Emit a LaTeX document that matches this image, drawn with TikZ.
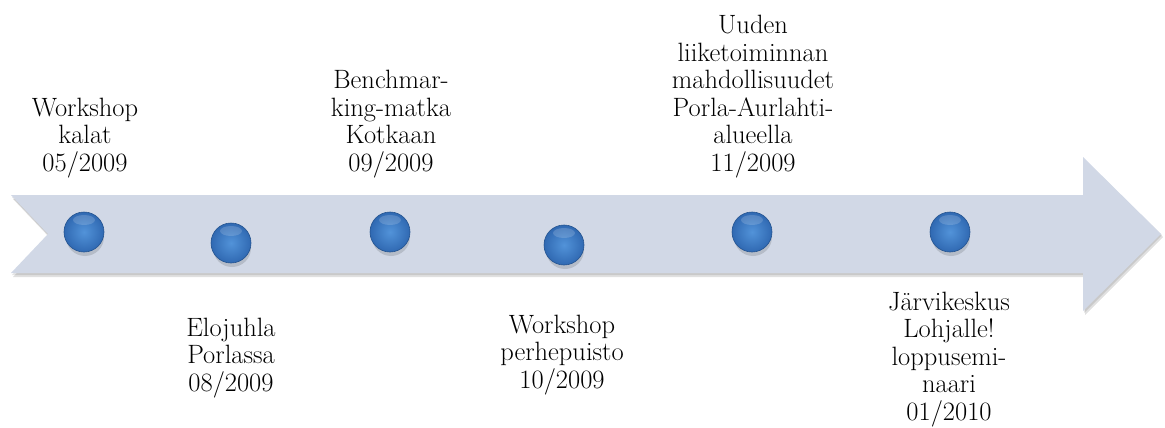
\documentclass[tikz,border=0pt]{standalone}
\usepackage{fontspec}
\definecolor{arrowfill}{HTML}{D1D8E6}
\definecolor{ballmid}{HTML}{5293D9}
\definecolor{ballout}{HTML}{3069B2}
\definecolor{ballrim}{HTML}{24538F}
\tikzset{
  lbl/.style={align=center, inner sep=0pt, font=\fontsize{26.5}{27.5}\selectfont},
  ballnode/.style={circle, minimum size=40pt, inner sep=0pt, draw=ballrim, line width=0.6pt,
    inner color=ballmid, outer color=ballout},
  ballshadow/.style={fill=black, opacity=0.13},
  ballshine/.style={fill=white, opacity=0.16}
}
\begin{document}
\begin{tikzpicture}[x=1pt, y=-1pt]
\useasboundingbox (0,0) rectangle (1165,428);
% arrow shadow
\fill[black, opacity=0.12] (13,199) -- (1085,199) -- (1085,161) -- (1163,237) -- (1085,315) -- (1085,277) -- (13,277) -- (50,238) -- cycle;
\fill[black, opacity=0.10] (12,197) -- (1084,197) -- (1084,159) -- (1162,235) -- (1084,313) -- (1084,275) -- (12,275) -- (49,236) -- cycle;
% arrow
\fill[arrowfill] (11,195) -- (1083,195) -- (1083,157) -- (1161,234) -- (1083,311) -- (1083,273) -- (11,273) -- (48,234) -- cycle;
% balls
\fill[ballshadow] (85,237) circle (19);
\node[ballnode] (b1) at (84,232) {};
\fill[ballshine] (84,220) ellipse (11 and 5);
\fill[ballshadow] (232,248) circle (19);
\node[ballnode] (b2) at (231,243) {};
\fill[ballshine] (231,231) ellipse (11 and 5);
\fill[ballshadow] (391,237) circle (19);
\node[ballnode] (b3) at (390,232) {};
\fill[ballshine] (390,220) ellipse (11 and 5);
\fill[ballshadow] (565,250) circle (19);
\node[ballnode] (b4) at (564,245) {};
\fill[ballshine] (564,233) ellipse (11 and 5);
\fill[ballshadow] (753,237) circle (19);
\node[ballnode] (b5) at (752,232) {};
\fill[ballshine] (752,220) ellipse (11 and 5);
\fill[ballshadow] (951,237) circle (19);
\node[ballnode] (b6) at (950,232) {};
\fill[ballshine] (950,220) ellipse (11 and 5);
% labels
\node[lbl, anchor=south] (t1) at (85,178) {Workshop\\kalat\\05/2009};
\node[lbl, anchor=south] (t3) at (391,178) {Benchmar-\\king-matka\\Kotkaan\\09/2009};
\node[lbl, anchor=south] (t5) at (753,178) {Uuden\\liiketoiminnan\\mahdollisuudet\\Porla-Aurlahti-\\alueella\\11/2009};
\node[lbl, anchor=south] (t2) at (231,398) {Elojuhla\\Porlassa\\08/2009};
\node[lbl, anchor=south] (t4) at (562,395) {Workshop\\perhepuisto\\10/2009};
\node[lbl, anchor=south] (t6) at (949,427) {Järvikeskus\\Lohjalle!\\loppusemi-\\naari\\01/2010};
\end{tikzpicture}
\end{document}
